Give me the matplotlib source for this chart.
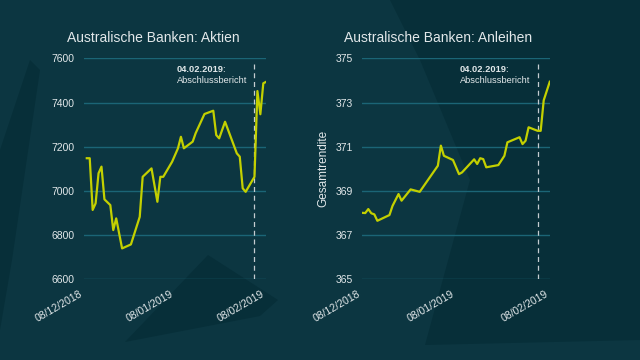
import datetime as dt
import matplotlib
matplotlib.use("Agg")
import matplotlib.pyplot as plt
import matplotlib.dates as mdates
from matplotlib.patches import Polygon

plt.rcParams["font.family"] = ["Liberation Sans", "DejaVu Sans"]

# Aktien (Index) – Tage ab 08.12.2018
start = dt.date(2018, 12, 8)
aktien_tage = [1, 2, 3, 4, 5, 6, 7, 9, 10, 11, 13, 16, 19, 20, 23, 25, 26, 27,
               30, 32, 33, 34, 37, 38, 41, 44, 45, 46, 48, 52, 53, 54, 55, 58,
               59, 60, 61, 62]
aktien = [7148, 7148, 6914, 6944, 7080, 7110, 6962, 6936, 6823, 6876, 6740,
          6758, 6883, 7064, 7102, 6951, 7064, 7064, 7132, 7193, 7245, 7193,
          7223, 7261, 7348, 7363, 7253, 7238, 7313, 7170, 7155, 7012, 6996,
          7064, 7452, 7347, 7487, 7494]

# Anleihen (Gesamtrendite)
anleihen_tage = [0, 1, 2, 3, 4, 5, 9, 10, 12, 13, 16, 19, 25, 26, 27, 30, 32,
                 33, 37, 38, 39, 40, 41, 45, 47, 48, 52, 53, 54, 55, 58, 59,
                 60, 62]
anleihen = [368.01, 368.0, 368.18, 367.99, 367.94, 367.65, 367.91, 368.32,
            368.86, 368.56, 369.07, 368.96, 370.14, 371.05, 370.59, 370.40,
            369.76, 369.84, 370.43, 370.22, 370.48, 370.44, 370.07, 370.17,
            370.59, 371.20, 371.43, 371.12, 371.27, 371.88, 371.72, 371.72,
            373.1, 373.94]

tick_dates = [dt.date(2018, 12, 8), dt.date(2019, 1, 8), dt.date(2019, 2, 8)]
event_date = dt.date(2019, 2, 4)

BG = "#0c3641"
DARK = "#072f39"
LINE = "#c3d000"
GRID = "#1b6576"
TEXT = "#e2e8ea"

to_dates = lambda days: [start + dt.timedelta(days=d) for d in days]

fig = plt.figure(figsize=(6.4, 3.6), dpi=100, facecolor=BG)

# dezente Hintergrundformen (Pixelkoordinaten)
bg = fig.add_axes([0, 0, 1, 1], zorder=-10)
bg.set_xlim(0, 640)
bg.set_ylim(360, 0)
bg.axis("off")
shapes = [
    [(390, 0), (640, 0), (640, 340), (425, 345), (470, 180), (420, 60)],
    [(125, 342), (208, 255), (278, 300), (260, 316)],
    [(0, 330), (0, 150), (30, 60), (40, 70), (12, 260)],
]
for pts in shapes:
    bg.add_patch(Polygon(pts, closed=True, facecolor=DARK, edgecolor="none"))

ax1 = fig.add_axes([0.131, 0.224, 0.285, 0.614])
ax2 = fig.add_axes([0.566, 0.224, 0.293, 0.614])

panels = [
    (ax1, to_dates(aktien_tage), aktien, (6600, 7600), range(6600, 7601, 200),
     "Australische Banken: Aktien", 0.382),
    (ax2, to_dates(anleihen_tage), anleihen, (365, 375), range(365, 376, 2),
     "Australische Banken: Anleihen", 0.402),
]

for ax, x, y, ylim, yticks, title, tx in panels:
    ax.set_facecolor("none")
    ax.plot(x, y, color=LINE, lw=1.6, zorder=3)
    ax.set_ylim(*ylim)
    ax.set_yticks(list(yticks))
    ax.set_xlim(start - dt.timedelta(days=0.6), dt.date(2019, 2, 8) + dt.timedelta(days=0.3))
    ax.set_xticks(tick_dates)
    ax.xaxis.set_major_formatter(mdates.DateFormatter("%d/%m/%Y"))
    for s in ax.spines.values():
        s.set_visible(False)
    ax.grid(axis="y", color=GRID, lw=1.0, zorder=1)
    ax.tick_params(length=0, colors=TEXT, labelsize=7.5, pad=6.5)
    for lab in ax.get_xticklabels():
        lab.set_rotation(30)
        lab.set_ha("right")
    ax.text(tx, 1.09, title, transform=ax.transAxes, ha="center", va="center",
            color=TEXT, fontsize=10)
    ax.axvline(event_date, ymax=0.99, color="#c4ccd0", lw=0.9, ls=(0, (4, 3)), zorder=2)
    t1 = ax.annotate("04.02.2019", xy=(event_date, 1.0), xycoords=("data", "axes fraction"),
                     xytext=(-56, -5), textcoords="offset points", ha="left", va="top",
                     color=TEXT, fontsize=6.7, fontweight="bold")
    ax.annotate(":", xy=(1.0, 0.0), xycoords=t1, xytext=(-1, 0),
                textcoords="offset points", ha="left", va="bottom",
                color=TEXT, fontsize=6.7)
    ax.annotate("Abschlussbericht", xy=(event_date, 1.0), xycoords=("data", "axes fraction"),
                xytext=(-56, -13), textcoords="offset points", ha="left", va="top",
                color=TEXT, fontsize=6.7)

ax2.set_ylabel("Gesamtrendite", color=TEXT, fontsize=8.5, labelpad=5)

fig.savefig("out.png", dpi=100, facecolor=BG)
